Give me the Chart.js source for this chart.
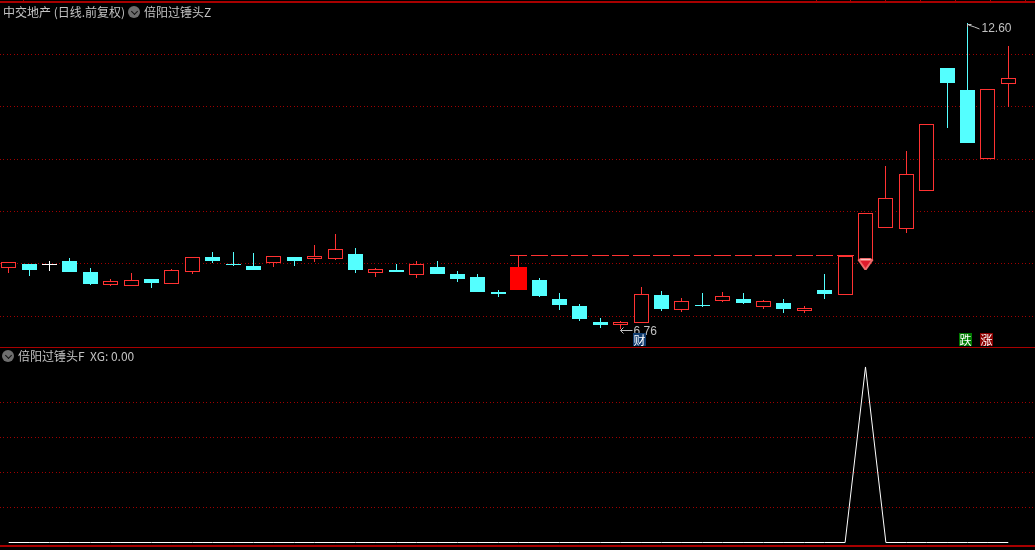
<!DOCTYPE html>
<html>
<head>
<meta charset="utf-8">
<title>中交地产</title>
<script src="https://cdn.jsdelivr.net/npm/chart.js@4/dist/chart.umd.min.js"></script>
<style>
html, body { margin: 0; padding: 0; background: #000; overflow: hidden; }
canvas { position: absolute; left: 0; }
#priceChart { top: 0; }
#xgChart { top: 348px; }
.rule { position: absolute; left: 0; width: 1035px; background: #a80000; }
.head { position: absolute; font: 12px "Noto Sans CJK SC", sans-serif; line-height: 14px; color: #c4c4c4; white-space: pre; }
.icon { position: absolute; width: 12px; height: 12px; border-radius: 50%; background: #6e6e6e; }
.icon::after { content: ""; position: absolute; left: 4px; top: 3px; width: 4px; height: 4px; border-right: 1px solid #111; border-bottom: 1px solid #111; transform: rotate(45deg); }
</style>
</head>
<body>
<canvas id="priceChart" width="1035" height="347"></canvas>
<canvas id="xgChart" width="1035" height="202"></canvas>

<div class="rule" style="top:1px;height:2px"></div>
<div class="rule" style="top:347px;height:1px"></div>
<div class="rule" style="top:545px;height:2px"></div>

<div class="head" style="left:3px;top:5px">中交地产 (日线.前复权)</div>
<div class="icon" style="left:128px;top:6px"></div>
<div class="head" style="left:144px;top:5px">倍阳过锤头Z</div>
<div class="icon" style="left:2px;top:350px"></div>
<div class="head" style="left:18px;top:349px">倍阳过锤头F  XG: 0.00</div>

<script>
// --- DATA ---
const opens = [7.92,8.00,8.00,8.05,7.84,7.60,7.58,7.71,7.62,7.84,8.13,8.00,7.96,8.02,8.13,8.09,8.09,8.19,7.83,7.88,7.79,7.94,7.81,7.75,7.46,7.50,7.69,7.33,7.19,6.89,6.83,6.87,7.40,7.12,7.21,7.29,7.33,7.18,7.25,7.10,7.50,7.40,8.07,8.69,8.67,9.39,11.75,11.32,10.01,11.44];
const closes = [8.04,7.88,8.00,7.84,7.62,7.67,7.69,7.63,7.88,8.13,8.05,7.98,7.88,8.15,8.05,8.15,8.28,7.88,7.90,7.84,8.00,7.81,7.71,7.46,7.42,7.94,7.39,7.21,6.95,6.83,6.89,7.42,7.14,7.29,7.19,7.39,7.25,7.29,7.14,7.16,7.42,8.15,8.97,9.26,9.72,10.67,11.46,10.31,11.34,11.55];
const highs = [8.04,8.00,8.05,8.11,7.92,7.71,7.83,7.71,7.90,8.13,8.23,8.23,8.21,8.15,8.13,8.36,8.57,8.30,7.92,8.00,8.05,8.05,7.86,7.81,7.50,8.17,7.73,7.44,7.23,6.96,6.91,7.56,7.48,7.35,7.44,7.46,7.44,7.31,7.33,7.19,7.81,8.17,8.97,9.87,10.16,10.67,11.75,12.60,11.34,12.17];
const lows = [7.83,7.77,7.86,7.84,7.60,7.58,7.58,7.54,7.62,7.81,8.02,7.96,7.88,7.94,7.96,8.04,8.07,7.83,7.75,7.84,7.73,7.81,7.65,7.46,7.37,7.50,7.37,7.12,6.91,6.77,6.76,6.87,7.10,7.08,7.18,7.27,7.23,7.14,7.06,7.06,7.33,7.40,8.07,8.69,8.59,9.39,10.60,10.31,10.01,11.00];
const xgValues = [0,0,0,0,0,0,0,0,0,0,0,0,0,0,0,0,0,0,0,0,0,0,0,0,0,0,0,0,0,0,0,0,0,0,0,0,0,0,0,0,0,0,1,0,0,0,0,0,0,0];
const priceTicks = [7,8,9,10,11,12];
const xgTicks = [0.2,0.4,0.6,0.8];
const resistanceLevel = 8.17;
const resistanceDays = [25,26,27,28,29,30,31,32,33,34,35,36,37,38,39,40,41];
const signalDay = 25;
const gemDay = 42;
const lowDay = 30;
const highDay = 47;
const badges = [
    { day: 31, text: '财', color: '#0f3b6e' },
    { day: 47, text: '跌', color: '#007a00' },
    { day: 48, text: '涨', color: '#8a0000' }
];

// --- CONFIG ---
const RED = '#ff3232';
const CYAN = '#54ffff';
const GRID = '#a00000';
const X_MIN = -0.4265;
const X_MAX = 50.309;

function candleColor(i) {
    if (closes[i] > opens[i]) return RED;
    if (closes[i] < opens[i]) return CYAN;
    return '#ffffff';
}

const days = opens.map((_, i) => i);
const bodyDays = days.filter(i => i !== signalDay);

// keep candles on whole pixels, the canvas would blur them otherwise
const snapBars = {
    id: 'snapBars',
    beforeDatasetsDraw(chart) {
        chart.data.datasets.forEach((ds, n) => {
            if (ds.type === 'line') return;
            chart.getDatasetMeta(n).data.forEach(el => {
                el.x = Math.floor(el.x) + 0.5;
                const a = Math.round(Math.min(el.y, el.base));
                let b = Math.round(Math.max(el.y, el.base));
                if (b === a) b = a + 1;
                el.y = a;
                el.base = b;
                el.height = b - a;
            });
        });
    }
};

const marks = {
    id: 'marks',
    afterDatasetsDraw(chart) {
        const c = chart.ctx;
        const x = chart.scales.x, y = chart.scales.y;
        c.save();

        // gem under the breakout candle
        const gx = Math.floor(x.getPixelForValue(gemDay)) + 0.5;
        const gy = Math.round(y.getPixelForValue(lows[gemDay])) - 2;
        c.fillStyle = '#f06a6a';
        c.beginPath();
        c.moveTo(gx - 8, gy + 2); c.lineTo(gx - 5, gy); c.lineTo(gx + 5, gy); c.lineTo(gx + 8, gy + 2);
        c.lineTo(gx + 1, gy + 12); c.lineTo(gx - 1, gy + 12);
        c.closePath();
        c.fill();
        c.fillStyle = '#e01c2c';
        c.beginPath();
        c.moveTo(gx - 5, gy + 3); c.lineTo(gx + 5, gy + 3); c.lineTo(gx, gy + 10);
        c.closePath();
        c.fill();
        c.fillStyle = '#ffc0c0';
        c.fillRect(gx - 5, gy + 1, 10, 1);

        // lowest and highest price labels
        c.strokeStyle = '#c0c0c0';
        c.fillStyle = '#c0c0c0';
        c.font = '12px "Liberation Sans", sans-serif';
        c.textBaseline = 'middle';
        c.lineWidth = 1;

        const lx = Math.floor(x.getPixelForValue(lowDay)) + 0.5;
        const ly = Math.round(y.getPixelForValue(lows[lowDay])) + 1.5;
        c.beginPath();
        c.moveTo(lx + 12, ly); c.lineTo(lx, ly);
        c.moveTo(lx + 3, ly - 3); c.lineTo(lx, ly); c.lineTo(lx + 3, ly + 3);
        c.stroke();
        c.fillText(lows[lowDay].toFixed(2), lx + 13, ly + 1);

        const hx = Math.floor(x.getPixelForValue(highDay)) + 0.5;
        const hy = Math.round(y.getPixelForValue(highs[highDay]));
        c.beginPath();
        c.moveTo(hx, hy + 1.5); c.lineTo(hx + 4, hy + 1.5);
        c.moveTo(hx, hy + 1.5); c.lineTo(hx, hy + 4);
        c.moveTo(hx + 1, hy + 2); c.lineTo(hx + 7, hy + 4); c.lineTo(hx + 12, hy + 6);
        c.stroke();
        c.fillText(highs[highDay].toFixed(2), hx + 14, hy + 6);

        // small badges along the bottom of the pane
        c.textAlign = 'center';
        c.font = '12px "Noto Sans CJK SC", sans-serif';
        badges.forEach(b => {
            const left = Math.floor(x.getPixelForValue(b.day) - 7.5);
            c.fillStyle = b.color;
            c.fillRect(left, 333, 13, 13);
            c.fillStyle = '#ffffff';
            c.fillText(b.text, left + 6.5, 340);
        });

        // ruler marks on the top edge
        c.fillStyle = '#a80000';
        [23, 816, 850, 885, 920, 955, 990, 1025].forEach(t => c.fillRect(t, 0, 1, 3));
        c.restore();
    }
};

function baseOptions(yMin, yMax, tickValues) {
    return {
        responsive: false,
        animation: false,
        events: [],
        layout: { padding: 0 },
        plugins: { legend: { display: false }, tooltip: { enabled: false } },
        scales: {
            // offset off: bar charts turn it on by default and it squeezes a linear axis
            x: { type: 'linear', display: false, offset: false, min: X_MIN, max: X_MAX },
            y: {
                min: yMin,
                max: yMax,
                ticks: { display: false },
                afterBuildTicks: axis => { axis.ticks = tickValues.map(v => ({ value: v })); },
                grid: { color: GRID, lineWidth: 1, drawTicks: false },
                border: { display: false, dash: [1, 2, 1, 3] }
            }
        }
    };
}

// --- PRICE PANE ---
new Chart(document.getElementById('priceChart'), {
    type: 'bar',
    data: {
        datasets: [
            {
                // candle bodies
                data: bodyDays.map(i => ({ x: i, y: [opens[i], closes[i]] })),
                backgroundColor: bodyDays.map(i => closes[i] > opens[i] ? '#000000' : candleColor(i)),
                borderColor: bodyDays.map(candleColor),
                borderWidth: 1,
                borderSkipped: false,
                inflateAmount: 0,
                barThickness: 15,
                grouped: false,
                order: 1
            },
            {
                // the filled signal candle
                data: [{ x: signalDay, y: [opens[signalDay], closes[signalDay]] }],
                backgroundColor: '#ff0000',
                borderWidth: 0,
                inflateAmount: 0,
                barThickness: 17,
                grouped: false,
                order: 1
            },
            {
                // one dash per day on the resistance level
                data: resistanceDays.map(i => ({ x: i, y: [resistanceLevel, resistanceLevel] })),
                backgroundColor: RED,
                borderWidth: 0,
                inflateAmount: 0,
                barThickness: 17,
                grouped: false,
                order: 3
            },
            {
                // wicks
                data: days.map(i => ({ x: i, y: [lows[i], highs[i]] })),
                backgroundColor: days.map(candleColor),
                borderWidth: 0,
                inflateAmount: 0,
                barThickness: 1,
                grouped: false,
                order: 2
            }
        ]
    },
    options: baseOptions(6.41, 13.046, priceTicks),
    plugins: [snapBars, marks]
});

// --- XG PANE ---
new Chart(document.getElementById('xgChart'), {
    type: 'line',
    data: {
        datasets: [{
            type: 'line',
            data: days.map(i => ({ x: i, y: xgValues[i] })),
            borderColor: '#ffffff',
            borderWidth: 1,
            pointRadius: 0,
            tension: 0
        }]
    },
    options: baseOptions(-0.0427, 1.108, xgTicks)
});
</script>
</body>
</html>
